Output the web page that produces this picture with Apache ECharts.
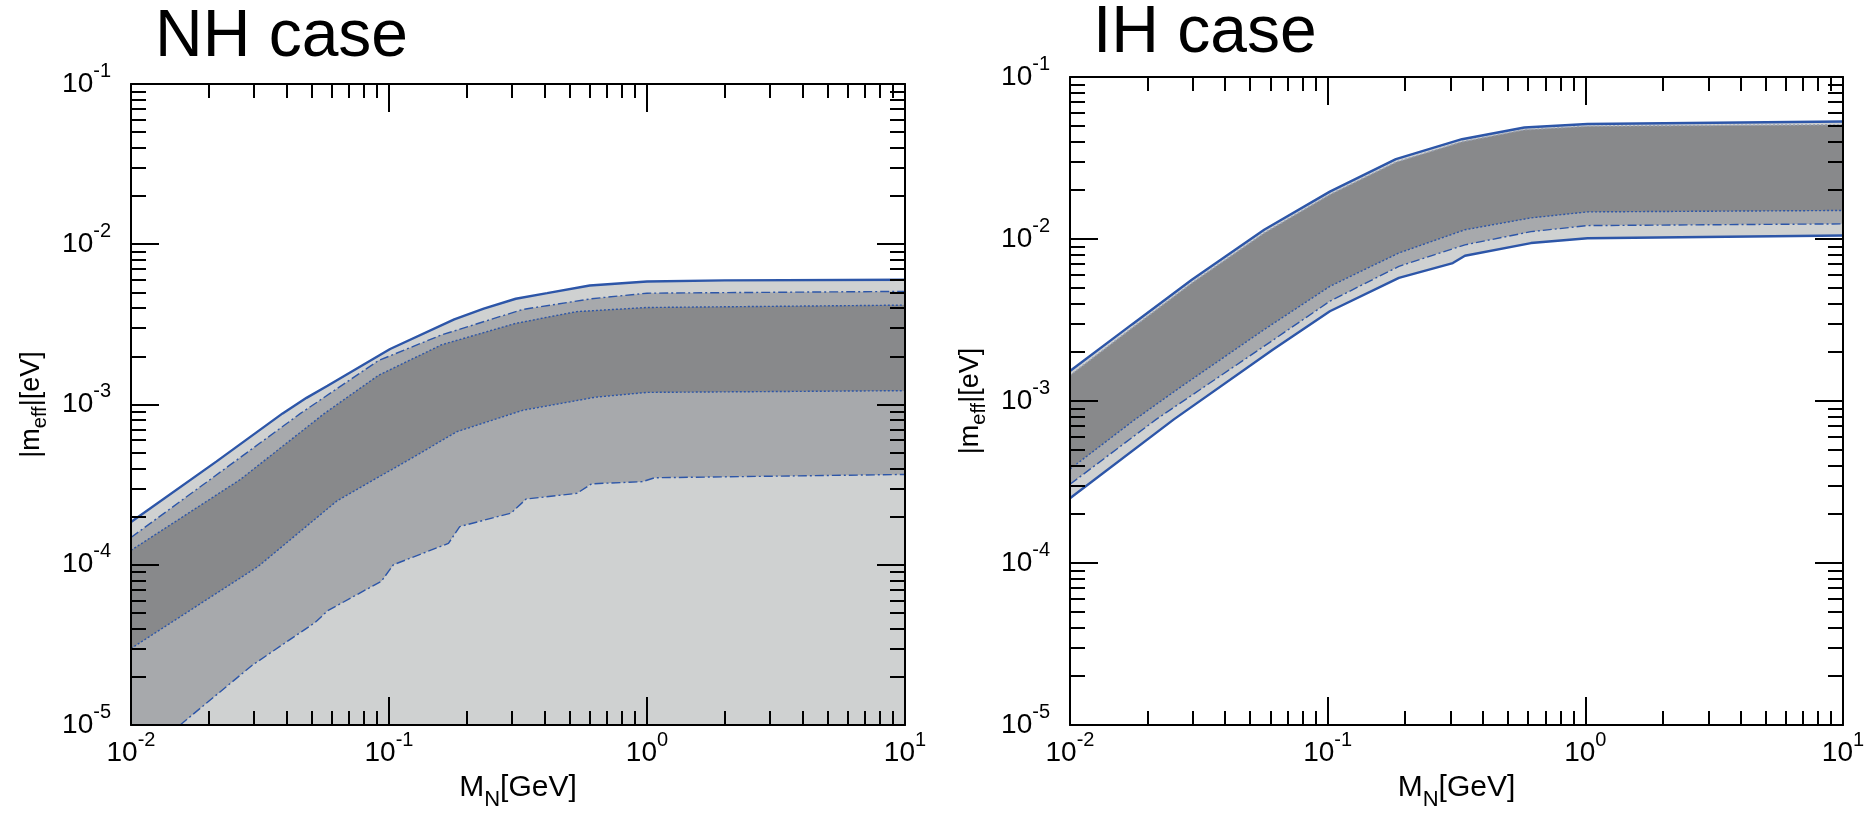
<!DOCTYPE html>
<html><head><meta charset="utf-8">
<script src="https://cdn.jsdelivr.net/npm/echarts@6/dist/echarts.min.js"></script>
<style>html,body{margin:0;padding:0;background:#fff}#c{width:1876px;height:816px}</style>
</head><body><div id="c"></div>
<script>
// ---------- tick values ----------
const xMajor = [0.01, 0.1, 1, 10];
const xMinor = [0.02,0.03,0.04,0.05,0.06,0.07,0.08,0.09,0.2,0.3,0.4,0.5,0.6,0.7,0.8,0.9,2,3,4,5,6,7,8,9];
const yMajor = [1e-5, 1e-4, 1e-3, 1e-2, 1e-1];
const yMinor = [2e-5,3e-5,4e-5,5e-5,6e-5,7e-5,8e-5,9e-5,
                2e-4,3e-4,4e-4,5e-4,6e-4,7e-4,8e-4,9e-4,
                2e-3,3e-3,4e-3,5e-3,6e-3,7e-3,8e-3,9e-3,
                2e-2,3e-2,4e-2,5e-2,6e-2,7e-2,8e-2,9e-2];
const titles = ['NH case', 'IH case'];

// ---------- NH case curves ----------
const nhSolidUpX = [0.01, 0.0214, 0.0387, 0.0479, 0.0578, 0.101, 0.179, 0.233, 0.31, 0.41, 0.6, 1.0, 2.0, 10];
const nhSolidUpY = [1.85e-4, 4.4e-4, 8.8e-4, 1.1e-3, 1.31e-3, 2.22e-3, 3.40e-3, 3.96e-3, 4.57e-3, 4.95e-3, 5.53e-3, 5.85e-3, 5.95e-3, 6.0e-3];
const nhDashUpX = [0.01, 0.0454, 0.091, 0.16, 0.33, 0.61, 1.0, 10];
const nhDashUpY = [1.48e-4, 8.8e-4, 1.88e-3, 2.72e-3, 3.92e-3, 4.57e-3, 4.95e-3, 5.08e-3];
const nhDotUpX = [0.01, 0.0265, 0.0562, 0.091, 0.16, 0.31, 0.535, 1.0, 10];
const nhDotUpY = [1.23e-4, 3.4e-4, 8.8e-4, 1.52e-3, 2.36e-3, 3.21e-3, 3.8e-3, 4.03e-3, 4.17e-3];
const nhDotLoX = [0.01, 0.0312, 0.063, 0.126, 0.183, 0.33, 0.63, 1.0, 10];
const nhDotLoY = [3.0e-5, 9.8e-5, 2.51e-4, 4.75e-4, 6.76e-4, 9.2e-4, 1.11e-3, 1.19e-3, 1.22e-3];
const nhDashLoX = [0.0155, 0.0295, 0.0518, 0.0578, 0.0935, 0.104, 0.17, 0.188, 0.297, 0.34, 0.535, 0.61, 0.96, 1.07, 10];
const nhDashLoY = [1.0e-5, 2.36e-5, 4.37e-5, 5.16e-5, 7.9e-5, 1.0e-4, 1.36e-4, 1.73e-4, 2.1e-4, 2.57e-4, 2.79e-4, 3.2e-4, 3.3e-4, 3.49e-4, 3.66e-4];

// ---------- IH case curves ----------
const ihSolidUpX = [0.01, 0.0174, 0.0297, 0.0567, 0.102, 0.184, 0.332, 0.58, 1.02, 10];
const ihSolidUpY = [1.53e-3, 2.97e-3, 5.6e-3, 1.14e-2, 1.96e-2, 3.11e-2, 4.13e-2, 4.88e-2, 5.13e-2, 5.31e-2];
const ihDotUpX = [0.01, 0.0174, 0.0297, 0.0567, 0.102, 0.184, 0.332, 0.58, 1.02, 10];
const ihDotUpY = [1.44e-3, 2.82e-3, 5.35e-3, 1.09e-2, 1.88e-2, 2.98e-2, 3.98e-2, 4.72e-2, 4.97e-2, 5.08e-2];
const ihDotLoX = [0.01, 0.0179, 0.0267, 0.0567, 0.102, 0.189, 0.341, 0.615, 1.02, 10];
const ihDotLoY = [3.8e-4, 7.7e-4, 1.21e-3, 2.76e-3, 5.1e-3, 8.2e-3, 1.14e-2, 1.35e-2, 1.47e-2, 1.5e-2];
const ihDashLoX = [0.01, 0.0216, 0.0567, 0.102, 0.189, 0.341, 0.615, 1.02, 10];
const ihDashLoY = [3.06e-4, 7.7e-4, 2.18e-3, 4.13e-3, 6.78e-3, 9.2e-3, 1.11e-2, 1.21e-2, 1.24e-2];
const ihSolidLoX = [0.01, 0.0253, 0.0614, 0.102, 0.189, 0.306, 0.341, 0.615, 1.02, 10];
const ihSolidLoY = [2.51e-4, 7.7e-4, 2.08e-3, 3.58e-3, 5.75e-3, 7.1e-3, 7.88e-3, 9.44e-3, 1.01e-2, 1.05e-2];

// ---------- styling ----------
const FONT = '"Liberation Sans", Arial, sans-serif';
const BLUE = '#2d56a8';
const LIGHT = '#cfd1d1', MED = '#a7a9ac', DARK = '#88898b', WHITE = '#ffffff';
const SOLID = {type: 'solid', width: 2.4};
const DASHDOT = {type: [9, 3, 2, 3], width: 1.4};
const DOT = {type: [2, 2], width: 1.4};

const tickStyle = {color: '#000', width: 2};
const lineStyleAxis = {color: '#000', width: 2};
const richLab = {
  b: {fontSize: 28, lineHeight: 28, fontFamily: FONT, color: '#000', verticalAlign: 'bottom'},
  s: {fontSize: 20, lineHeight: 20, fontFamily: FONT, color: '#000', verticalAlign: 'bottom', padding: [0, 0, 17, 0]}
};
const fmt = v => '{b|10}{s|' + Math.round(Math.log10(v)) + '}';

function makeAxes(dim, gi) {
  const isX = dim === 'x';
  const base = {
    type: 'log', logBase: 10, gridIndex: gi, z: 10,
    min: isX ? 0.01 : 1e-5, max: isX ? 10 : 0.1,
    splitLine: {show: false}, minorTick: {show: false}, minorSplitLine: {show: false},
    axisPointer: {show: false}
  };
  const major = isX ? xMajor : yMajor, minor = isX ? xMinor : yMinor;
  const pos1 = isX ? 'bottom' : 'left', pos2 = isX ? 'top' : 'right';
  const majLen = 28, minLen = isX ? 14 : 15;
  const main = Object.assign({}, base, {
    position: pos1,
    axisLine: {show: true, onZero: false, lineStyle: lineStyleAxis},
    axisTick: {show: true, inside: true, length: majLen, customValues: major, lineStyle: tickStyle},
    axisLabel: {show: true, margin: isX ? 14 : 20, customValues: major, formatter: fmt, rich: richLab},
    nameLocation: 'middle'
  });
  if (isX) {
    main.name = '{m|M}{sub|N}{m|[GeV]}';
    main.nameGap = 48;
    main.nameTextStyle = {rich: {
      m: {fontSize: 30, lineHeight: 30, fontFamily: FONT, color: '#000', verticalAlign: 'top'},
      sub: {fontSize: 22, lineHeight: 22, fontFamily: FONT, color: '#000', verticalAlign: 'top', padding: [16, 0, 0, 0]}
    }};
  } else {
    main.name = '{m||m}{sub|eff}{m||[eV]}';
    main.nameGap = 86;
    main.nameTextStyle = {rich: {
      m: {fontSize: 27, lineHeight: 27, fontFamily: FONT, color: '#000', verticalAlign: 'top'},
      sub: {fontSize: 20, lineHeight: 20, fontFamily: FONT, color: '#000', verticalAlign: 'top', padding: [12, 0, 0, 0]}
    }};
  }
  const mk = (pos, showLine, vals, len) => Object.assign({}, base, {
    position: pos,
    axisLine: {show: showLine, onZero: false, lineStyle: lineStyleAxis},
    axisTick: {show: true, inside: true, length: len, customValues: vals, lineStyle: tickStyle},
    axisLabel: {show: false}
  });
  return [main, mk(pos1, false, minor, minLen), mk(pos2, true, major, majLen), mk(pos2, false, minor, minLen)];
}

const pairs = (xs, ys) => xs.map((x, i) => [x, ys[i]]);

function band(gi, xs, ys, fill, ls) {
  const ax = gi * 4;
  const data = pairs(xs, ys);
  const out = [];
  if (fill) out.push({
    type: 'line', xAxisIndex: ax, yAxisIndex: ax, data, symbol: 'none', silent: true,
    lineStyle: {width: 0, opacity: 0}, areaStyle: {color: fill, opacity: 1, origin: 'start'}, z: 2
  });
  out.push({
    type: 'line', xAxisIndex: ax, yAxisIndex: ax, data, symbol: 'none', silent: true,
    lineStyle: Object.assign({color: BLUE}, ls), z: 4
  });
  return out;
}

const fills = [], lines = [];
function add(arr) { arr.forEach(s => (s.areaStyle ? fills : lines).push(s)); }
// NH (painter's order, top to bottom)
add(band(0, nhSolidUpX, nhSolidUpY, LIGHT, SOLID));
add(band(0, nhDashUpX, nhDashUpY, MED, DASHDOT));
add(band(0, nhDotUpX, nhDotUpY, DARK, DOT));
add(band(0, nhDotLoX, nhDotLoY, MED, DOT));
add(band(0, nhDashLoX, nhDashLoY, LIGHT, DASHDOT));
// IH
add(band(1, ihSolidUpX, ihSolidUpY, LIGHT, SOLID));
add(band(1, ihDotUpX, ihDotUpY, DARK, Object.assign({}, DOT, {color: '#9aa3b5'})));
add(band(1, ihDotLoX, ihDotLoY, MED, DOT));
add(band(1, ihDashLoX, ihDashLoY, LIGHT, DASHDOT));
add(band(1, ihSolidLoX, ihSolidLoY, WHITE, SOLID));

const chart = echarts.init(document.getElementById('c'), null, {renderer: 'canvas'});
chart.setOption({
  animation: false,
  backgroundColor: '#fff',
  title: [
    {text: titles[0], left: 155, top: 5, padding: 0, textStyle: {fontSize: 66, fontWeight: 'normal', fontFamily: FONT, color: '#000'}},
    {text: titles[1], left: 1093, top: 1, padding: 0, textStyle: {fontSize: 66, fontWeight: 'normal', fontFamily: FONT, color: '#000'}}
  ],
  grid: [
    {left: 131, top: 84, width: 774, height: 650, containLabel: false},
    {left: 1070, top: 77, width: 773, height: 649, containLabel: false}
  ],
  xAxis: [].concat(makeAxes('x', 0), makeAxes('x', 1)),
  yAxis: [].concat(makeAxes('y', 0), makeAxes('y', 1)),
  series: fills.concat(lines)
});
</script></body></html>
